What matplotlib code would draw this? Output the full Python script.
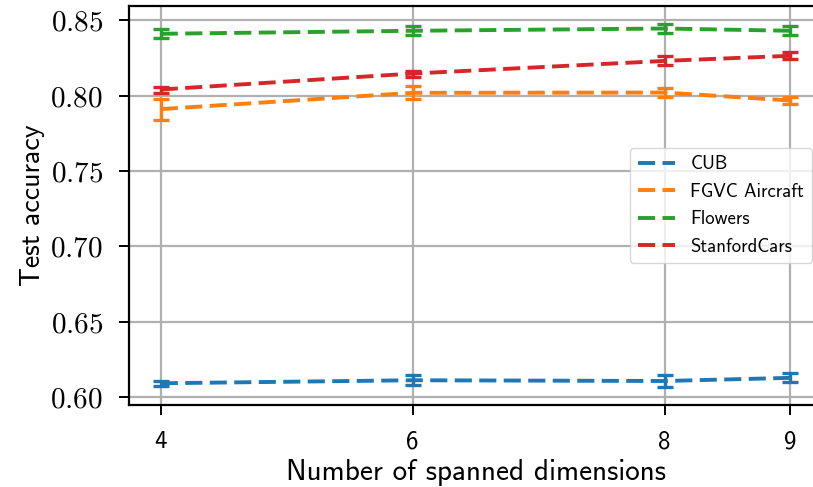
import numpy as np
import matplotlib
matplotlib.use("Agg")
import matplotlib.pyplot as plt
from matplotlib.lines import Line2D
from matplotlib.ticker import FuncFormatter

# spanned dimensions on the x axis
dims = [4, 6, 8, 9]

# mean test accuracy and error per dataset
cub_acc = [0.609, 0.611, 0.6105, 0.6126]
cub_err = [0.0017, 0.0033, 0.004, 0.003]

fgvc_acc = [0.791, 0.8018, 0.802, 0.7967]
fgvc_err = [0.007, 0.0044, 0.003, 0.0025]

flowers_acc = [0.841, 0.843, 0.8445, 0.843]
flowers_err = [0.003, 0.003, 0.003, 0.003]

cars_acc = [0.804, 0.8146, 0.823, 0.8264]
cars_err = [0.002, 0.002, 0.003, 0.0024]

labels = ["CUB", "FGVC Aircraft", "Flowers", "StanfordCars"]
colors = ["#1f77b4", "#ff7f0e", "#2ca02c", "#d62728"]


def main():
    plt.rcParams["font.family"] = ["cmss10", "DejaVu Sans"]
    plt.rcParams["mathtext.fontset"] = "cm"
    plt.rcParams["axes.unicode_minus"] = False
    plt.rcParams["lines.dashed_pattern"] = [4.4, 1.9]

    fig = plt.figure(figsize=(8.13, 4.87), dpi=100)
    # right edge of the axes runs past the canvas, as in the original
    ax = fig.add_axes([0.159, 0.168, 0.852, 0.820])

    series = [
        (cub_acc, cub_err),
        (fgvc_acc, fgvc_err),
        (flowers_acc, flowers_err),
        (cars_acc, cars_err),
    ]
    for (acc, err), col in zip(series, colors):
        ax.errorbar(dims, acc, yerr=err, color=col,
                    linestyle="--", linewidth=2.8, elinewidth=2.4,
                    capsize=5.5, capthick=2.4, zorder=3)

    ax.set_xticks(dims)
    ax.set_yticks([0.60, 0.65, 0.70, 0.75, 0.80, 0.85])
    ax.yaxis.set_major_formatter(FuncFormatter(lambda v, p: f"${v:.2f}$"))
    ax.tick_params(axis="y", labelsize=21, length=7, width=1.4, pad=12)
    ax.tick_params(axis="x", labelsize=18, length=7, width=1.4, pad=11)

    ax.grid(True, color="#b0b0b0", linewidth=1.6)
    ax.set_axisbelow(True)
    for sp in ax.spines.values():
        sp.set_linewidth(1.6)

    ax.set_xlabel("Number of spanned dimensions", fontsize=21)
    ax.set_ylabel("Test accuracy", fontsize=20)

    handles = [Line2D([], [], color=c, linestyle="--", linewidth=2.8)
               for c in colors]
    ax.legend(handles, labels, loc="center right", fontsize=13.5,
              handlelength=2.0, framealpha=0.8, borderaxespad=0.55)

    fig.savefig("out.png", dpi=100)
    plt.close(fig)


if __name__ == "__main__":
    main()
